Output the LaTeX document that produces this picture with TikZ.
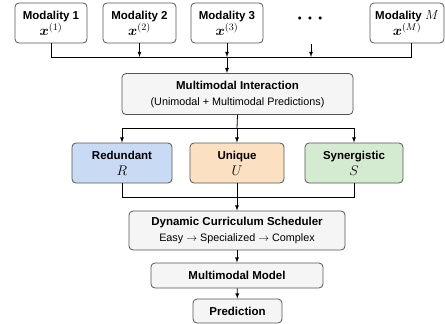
\documentclass[tikz,border=0pt]{standalone}
\usepackage{fix-cm}
\usepackage{amsmath,amssymb,bm}
\usepackage{fontspec}
\setmainfont{Liberation Sans}
\usetikzlibrary{shapes,arrows,calc,positioning}

\definecolor{boxline}{HTML}{555555}
\definecolor{boxgray}{HTML}{F5F5F5}
\definecolor{redblue}{HTML}{C9DAF4}
\definecolor{uniorange}{HTML}{FCE0C2}
\definecolor{syngreen}{HTML}{D4EBD2}

\newcommand{\mvar}[1]{{\fontsize{14}{16}\selectfont$#1$}}

\begin{document}
\begin{tikzpicture}[x=1pt,y=-1pt,
  box/.style={draw=boxline,rounded corners=4pt,line width=0.8pt,align=center,
    inner sep=0pt,font=\fontsize{11.5}{16}\selectfont},
  modbox/.style={box,fill=white,minimum height=40pt},
  pidbox/.style={box,minimum width=97pt,minimum height=40pt},
  line/.style={line width=0.8pt},
  arr/.style={line,-latex}]
  \useasboundingbox (0,0) rectangle (445,324);

  % modalities
  \node[modbox,minimum width=72pt] (mod1) at (51,23) {\textbf{Modality 1}\\ \mvar{\bm{x}^{(1)}}};
  \node[modbox,minimum width=73pt] (mod2) at (139.5,23) {\textbf{Modality 2}\\ \mvar{\bm{x}^{(2)}}};
  \node[modbox,minimum width=72pt] (mod3) at (227,23) {\textbf{Modality 3}\\ \mvar{\bm{x}^{(3)}}};
  \node (dots) at (312,19) {\fontsize{20}{20}\selectfont$\bm{\cdots}$};
  \node[modbox,minimum width=74pt] (modM) at (407,23) {\textbf{Modality {\fontsize{13}{16}\selectfont$M$}}\\ \mvar{\bm{x}^{(M)}}};

  \node[box,fill=boxgray,minimum width=231pt,minimum height=41pt] (inter) at (237.5,94)
    {\textbf{Multimodal Interaction}\\ {\fontsize{10.8}{12}\selectfont(Unimodal + Multimodal Predictions)}};

  % interaction types
  \node[pidbox,fill=redblue,minimum width=100pt] (red) at (122,163) {\textbf{Redundant}\\ \mvar{R}};
  \node[pidbox,fill=uniorange,minimum width=94pt] (uni) at (237,163) {\textbf{Unique}\\ \mvar{U}};
  \node[pidbox,fill=syngreen,minimum width=98pt] (syn) at (354,163) {\textbf{Synergistic}\\ \mvar{S}};

  \node[box,fill=boxgray,minimum width=216pt,minimum height=39pt] (sched) at (237,230.5)
    {\textbf{Dynamic Curriculum Scheduler}\\ {\fontsize{10.8}{12}\selectfont Easy $\rightarrow$ Specialized $\rightarrow$ Complex}};
  \node[box,fill=boxgray,minimum width=172pt,minimum height=25pt] (model) at (237,275.5) {\textbf{Multimodal Model}};
  \node[box,fill=boxgray,minimum width=89pt,minimum height=24pt] (pred) at (237.5,311) {\textbf{Prediction}};

  \coordinate (busL) at (51,57);
  \coordinate (busR) at (411,57);
  \coordinate (dotsTop) at (311,44);
  \coordinate (split) at (237,128);
  \coordinate (merge) at (237,197);

  % connectors
  \draw[line] (mod1.south) -- (busL) -- (busR) -- (busR |- modM.south);
  \draw[arr] (mod2.south) -- (mod2.south |- busL);
  \draw[arr] (mod3.south) -- (mod3.south |- busL);
  \draw[arr] (dotsTop) -- (dotsTop |- busL);
  \draw[arr] (mod3.south |- busL) -- (mod3.south |- inter.north);

  \draw[line] (inter.south) -- (split);
  \draw[arr] (split) -| (red.north);
  \draw[arr] (split) -- (uni.north);
  \draw[arr] (split) -| (syn.north);

  \draw[line] (red.south) |- (merge);
  \draw[line] (syn.south) |- (merge);
  \draw[arr] (uni.south) -- (sched.north);
  \draw[arr] (sched) -- (model);
  \draw[arr] (model) -- (pred);

\end{tikzpicture}
\end{document}
